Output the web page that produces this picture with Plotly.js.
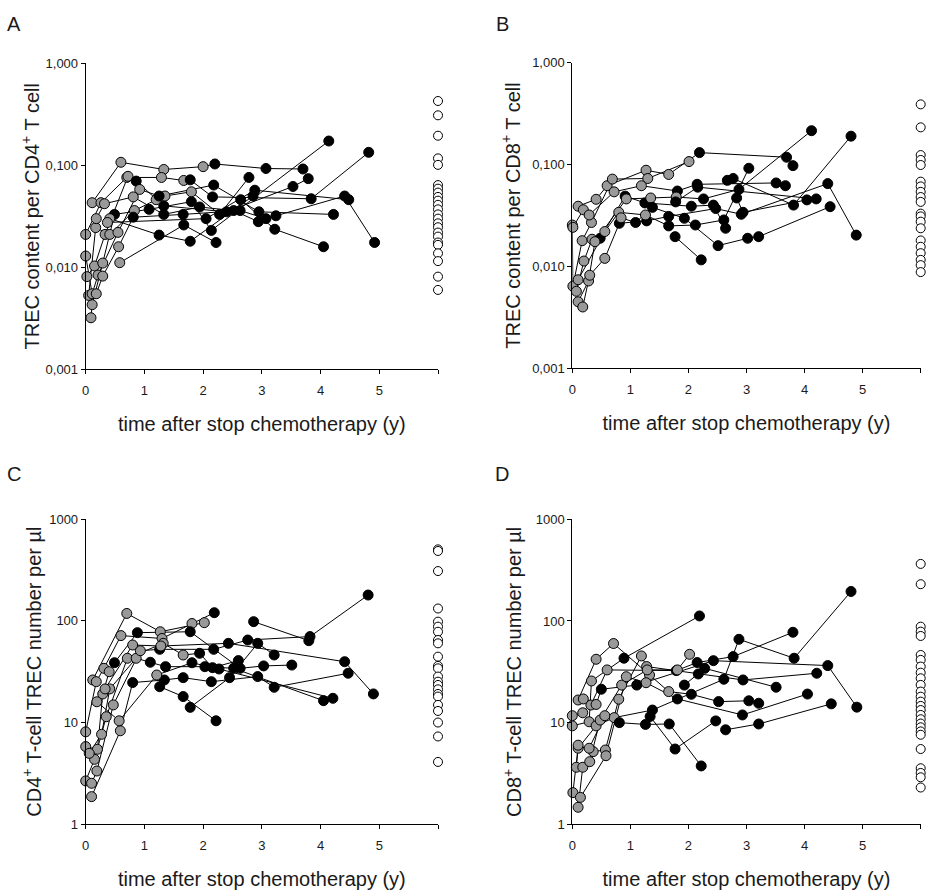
<!DOCTYPE html>
<html>
<head>
<meta charset="utf-8">
<script src="https://cdn.plot.ly/plotly-3.0.1.min.js"></script>
<style>
  html, body { margin: 0; padding: 0; background: #fff; }
  #chart { width: 928px; height: 891px; }
</style>
</head>
<body>
<div id="chart"></div>
<script>
// Follow-up samples per patient: years after stopping chemotherapy, TREC values,
// and sample cohort (0 = early follow-up, 1 = late follow-up).
// Healthy controls are plotted in a separate column on the right.

// A: TREC content per CD4+ T cell
const cd4ShareTimes = [
  [0.11, 0.60, 1.33, 2.00, 2.20, 3.07, 3.70],
  [0.00, 0.26, 0.70, 1.29, 1.67, 1.78, 2.16, 3.84, 4.82],
  [0.02, 0.15, 0.33, 0.72, 0.86, 1.33, 2.40, 3.53, 3.79],
  [0.09, 0.11, 0.29, 0.49, 1.08, 1.80, 2.14, 4.14],
  [0.05, 0.17, 0.41, 0.83, 1.20, 1.35, 1.80, 2.28, 2.78],
  [0.00, 0.11, 0.21, 0.55, 0.92, 1.25, 2.18, 2.95, 4.22],
  [0.18, 0.29, 0.56, 0.81, 1.66, 2.63, 3.07, 4.41, 4.92],
  [0.18, 0.32, 0.81, 1.33, 1.94, 2.52, 2.94, 3.24],
  [0.41, 1.25, 1.78, 2.85],
  [0.58, 1.67, 2.22],
  [0.37, 2.05, 2.88, 4.48],
  [2.64, 3.22, 4.05]
];
const cd4ShareValues = [
  [0.043, 0.107, 0.091, 0.097, 0.103, 0.093, 0.092],
  [0.021, 0.043, 0.076, 0.076, 0.071, 0.072, 0.049, 0.047, 0.134],
  [0.0081, 0.0103, 0.021, 0.078, 0.070, 0.040, 0.035, 0.062, 0.074],
  [0.0032, 0.0043, 0.011, 0.033, 0.037, 0.044, 0.023, 0.173],
  [0.0053, 0.0245, 0.021, 0.036, 0.046, 0.050, 0.055, 0.033, 0.076],
  [0.0129, 0.0055, 0.0084, 0.022, 0.058, 0.050, 0.064, 0.035, 0.033],
  [0.0055, 0.0082, 0.0159, 0.031, 0.033, 0.036, 0.030, 0.050, 0.0175],
  [0.030, 0.042, 0.049, 0.033, 0.039, 0.036, 0.028, 0.032],
  [0.030, 0.0207, 0.018, 0.050],
  [0.0111, 0.026, 0.0175],
  [0.0275, 0.030, 0.057, 0.046],
  [0.046, 0.0236, 0.0159]
];
const cd4ShareCohort = [
  [0, 0, 0, 0, 1, 1, 1],
  [0, 0, 0, 0, 0, 1, 1, 1, 1],
  [0, 0, 0, 0, 1, 1, 1, 1, 1],
  [0, 0, 0, 1, 1, 1, 1, 1],
  [0, 0, 0, 0, 0, 0, 0, 1, 1],
  [0, 0, 0, 0, 0, 1, 1, 1, 1],
  [0, 0, 0, 1, 1, 1, 1, 1, 1],
  [0, 0, 0, 1, 1, 1, 1, 1],
  [0, 1, 1, 1],
  [0, 1, 1],
  [0, 1, 1, 1],
  [1, 1, 1]
];
const cd4ShareHealthy = [0.427, 0.309, 0.195, 0.117, 0.101, 0.064, 0.059, 0.054, 0.049, 0.045,
  0.041, 0.037, 0.033, 0.030, 0.027, 0.0247, 0.0219, 0.020, 0.0175, 0.0166, 0.0137, 0.0115, 0.0081, 0.006];

// B: TREC content per CD8+ T cell
const cd8ShareTimes = [
  [0.10, 0.41, 0.60, 1.27, 1.66, 2.19, 3.69, 3.80],
  [0.00, 0.01, 0.17, 0.33, 0.69, 1.30, 2.01],
  [0.01, 0.19, 0.29, 0.72, 1.19, 1.81, 2.15, 3.51, 3.67],
  [0.07, 0.20, 0.34, 0.48, 0.91, 1.25, 2.05, 2.43, 2.64],
  [0.10, 0.28, 0.39, 0.93, 1.35, 1.79, 2.26, 2.87, 4.12],
  [0.18, 0.30, 0.56, 0.81, 1.28, 1.66, 2.47, 2.91, 4.40, 4.89],
  [0.10, 0.56, 0.80, 1.26, 1.66, 2.12, 2.61, 3.04],
  [0.84, 1.09, 1.38, 1.93, 2.51, 3.02, 3.21, 4.44],
  [1.78, 2.16, 4.20],
  [1.77, 2.22],
  [2.67, 2.77, 3.81, 4.80],
  [2.83, 2.94, 4.04]
];
const cd8ShareValues = [
  [0.039, 0.0456, 0.062, 0.088, 0.080, 0.131, 0.118, 0.0976],
  [0.0255, 0.0064, 0.0179, 0.027, 0.072, 0.073, 0.107],
  [0.0242, 0.036, 0.032, 0.054, 0.062, 0.055, 0.064, 0.066, 0.062],
  [0.0057, 0.0113, 0.0185, 0.0189, 0.049, 0.042, 0.039, 0.040, 0.0237],
  [0.0045, 0.0072, 0.0175, 0.046, 0.047, 0.048, 0.046, 0.057, 0.215],
  [0.0040, 0.0082, 0.012, 0.0265, 0.028, 0.031, 0.037, 0.0325, 0.065, 0.0203],
  [0.0074, 0.022, 0.034, 0.032, 0.025, 0.0255, 0.0286, 0.092],
  [0.030, 0.027, 0.038, 0.0297, 0.016, 0.0189, 0.0196, 0.0386],
  [0.043, 0.060, 0.046],
  [0.0196, 0.0116],
  [0.070, 0.073, 0.040, 0.19],
  [0.047, 0.034, 0.045]
];
const cd8ShareCohort = [
  [0, 0, 0, 0, 0, 1, 1, 1],
  [0, 0, 0, 0, 0, 0, 0],
  [0, 0, 0, 0, 0, 1, 1, 1, 1],
  [0, 0, 0, 1, 1, 1, 1, 1, 1],
  [0, 0, 0, 0, 0, 0, 1, 1, 1],
  [0, 0, 0, 1, 1, 1, 1, 1, 1, 1],
  [0, 0, 0, 0, 1, 1, 1, 1],
  [0, 1, 1, 1, 1, 1, 1, 1],
  [1, 1, 1],
  [1, 1],
  [1, 1, 1, 1],
  [1, 1, 1]
];
const cd8ShareHealthy = [0.39, 0.232, 0.124, 0.111, 0.099, 0.068, 0.061, 0.054, 0.048, 0.043,
  0.033, 0.031, 0.0275, 0.0237, 0.018, 0.0156, 0.0135, 0.0116, 0.0103, 0.0088];

// C: CD4+ T-cell TREC number per µl
const cd4CountTimes = [
  [0.12, 0.70, 1.27, 2.02],
  [0.00, 0.18, 0.31, 0.60, 1.30, 1.81, 2.19],
  [0.00, 0.20, 0.29, 0.40, 0.49, 0.88, 1.78, 2.63, 3.03, 3.51],
  [0.00, 0.15, 0.35, 0.71, 1.32, 1.66, 1.94, 2.16, 2.60],
  [0.06, 0.27, 0.41, 0.86, 1.10, 1.36, 2.03, 2.52, 4.05],
  [0.10, 0.19, 0.47, 0.93, 1.26, 2.18, 2.76, 3.82, 4.81],
  [0.10, 0.59, 0.80, 1.34, 1.66, 2.14, 2.93, 3.21, 4.47],
  [0.19, 0.57, 1.21, 1.81, 2.27, 4.21],
  [0.33, 0.80, 1.28, 2.43, 4.41, 4.90],
  [1.26, 1.66, 2.22],
  [2.86, 3.80],
  [1.78, 2.45, 2.93, 3.21]
];
const cd4CountValues = [
  [26.2, 118, 78, 95.8],
  [8.1, 25.2, 34.1, 71.5, 67, 94, 120],
  [5.8, 5.46, 19.1, 31.6, 38.7, 76.4, 78, 34.1, 36, 36.7],
  [2.67, 4.35, 11.4, 42.8, 60, 46.1, 47.9, 34.6, 40.6],
  [4.98, 7.66, 21.4, 42.8, 39.1, 35.4, 35.4, 34.1, 16.4],
  [2.53, 3.34, 14.9, 50.8, 52.4, 52.4, 64.7, 69.9, 179],
  [1.87, 8.3, 24.7, 26.2, 27.6, 25.2, 28.3, 22.2, 30.5],
  [16.0, 10.4, 29.3, 38.7, 33.6, 17.3],
  [21.4, 57.8, 56.5, 60, 39.6, 19.1],
  [22.5, 18, 10.4],
  [98, 63.7],
  [14.1, 27.6, 60, 46.1]
];
const cd4CountCohort = [
  [0, 0, 0, 0],
  [0, 0, 0, 0, 0, 0, 1],
  [0, 0, 0, 0, 1, 1, 1, 1, 1, 1],
  [0, 0, 0, 0, 0, 0, 1, 1, 1],
  [0, 0, 0, 0, 1, 1, 1, 1, 1],
  [0, 0, 0, 0, 1, 1, 1, 1, 1],
  [0, 0, 1, 1, 1, 1, 1, 1, 1],
  [0, 0, 0, 1, 1, 1],
  [0, 0, 0, 1, 1, 1],
  [1, 1, 1],
  [1, 1],
  [1, 1, 1, 1]
];
const cd4CountHealthy = [503, 485, 308, 132, 98, 87.5, 78, 64.7, 60, 44.4, 36, 34.1,
  28.3, 25.2, 23.4, 21.2, 19.1, 18, 14.9, 13, 10, 7.3, 4.1];

// D: CD8+ T-cell TREC number per µl
const cd8CountTimes = [
  [0.10, 0.41, 0.71, 1.33, 1.66, 2.05, 2.52, 3.04, 3.21],
  [0.00, 0.18, 0.32, 0.60, 1.79, 2.15, 2.77, 3.80],
  [0.00, 0.29, 0.33, 0.89, 2.19],
  [0.01, 0.10, 0.41, 0.72, 1.38, 2.61, 2.87, 3.82, 4.80],
  [0.07, 0.10, 0.36, 0.57, 0.80, 1.19, 1.28, 2.17, 2.94, 4.21],
  [0.10, 0.18, 0.30, 0.48, 0.85, 1.29, 1.81, 2.02],
  [0.14, 0.58, 0.93, 1.27, 1.81, 2.93, 4.05],
  [0.19, 0.41, 0.50, 1.11, 2.43, 4.40, 4.90],
  [0.29, 0.56, 0.81, 1.26, 1.67, 2.22],
  [1.34, 1.77, 2.47],
  [1.93, 2.28, 3.51],
  [2.64, 3.21, 4.46]
];
const cd8CountValues = [
  [16.7, 42, 60, 29.4, 20.2, 19, 16.1, 16.4, 15.5],
  [11.7, 12.5, 14.9, 33, 32.5, 39, 44.6, 77.4],
  [9.3, 10.2, 25.7, 43, 112],
  [2.05, 5.6, 9.3, 11.2, 13.3, 26.7, 66, 43, 195],
  [3.64, 6.0, 5.19, 5.38, 17, 45.3, 35.6, 30.1, 26.3, 30.6],
  [1.47, 3.64, 4.13, 10.6, 23.4, 33, 33, 47],
  [1.84, 4.73, 28.3, 24.7, 17.1, 11.9, 19.1],
  [17.1, 15.1, 21.3, 23.4, 40.7, 36.4, 14.2],
  [5.6, 11.7, 10, 9.6, 9.7, 3.75],
  [11.5, 5.5, 10.4],
  [23.4, 34.2, 22.3],
  [8.5, 9.7, 15.3]
];
const cd8CountCohort = [
  [0, 0, 0, 0, 0, 1, 1, 1, 1],
  [0, 0, 0, 0, 1, 1, 1, 1],
  [0, 0, 0, 1, 1],
  [0, 0, 0, 0, 1, 1, 1, 1, 1],
  [0, 0, 0, 0, 0, 0, 0, 1, 1, 1],
  [0, 0, 0, 0, 0, 0, 0, 0],
  [0, 0, 0, 0, 1, 1, 1],
  [0, 0, 1, 1, 1, 1, 1],
  [0, 0, 1, 1, 1, 1],
  [1, 1, 1],
  [1, 1, 1],
  [1, 1, 1]
];
const cd8CountHealthy = [364, 230, 87.9, 78.5, 71.2, 46.3, 41.4, 35.6, 31, 27.3, 23.5, 20.2,
  18, 16.1, 14.6, 13.3, 11.9, 10.8, 9.8, 9.0, 8.2, 7.6, 5.5, 3.56, 3.2, 2.9, 2.3];

// x-axis ticks (years); an unlabelled tick at 6 marks the healthy-control column
const yearTicks = [0, 1, 2, 3, 4, 5];
const yearLabels = ['0', '1', '2', '3', '4', '5'];
const controlSlot = 6;

// y-axis ticks
const shareTicks = [0.001, 0.01, 0.1, 1];
const shareLabels = ['0,001', '0,010', '0,100', '1,000'];
const countTicks = [1, 10, 100, 1000];
const countLabels = ['1', '10', '100', '1000'];

const W = 928, H = 891;
const FONT = 'Liberation Sans, Arial, Helvetica, sans-serif';
const INK = '#1a1a1a';
const GREY_FILL = '#999999';

const lineTraces = [];
const markerTraces = [];

function addPanel(times, values, cohort, healthy, xa, ya) {
  times.forEach((t, i) => {
    lineTraces.push({
      x: t, y: values[i], xaxis: xa, yaxis: ya,
      mode: 'lines', line: { color: '#000', width: 1 },
      cliponaxis: false, hoverinfo: 'skip', showlegend: false
    });
    markerTraces.push({
      x: t, y: values[i], xaxis: xa, yaxis: ya,
      mode: 'markers',
      marker: {
        size: 10,
        color: cohort[i].map(c => (c ? '#000000' : GREY_FILL)),
        line: { color: '#000', width: 1 }
      },
      cliponaxis: false, showlegend: false
    });
  });
  markerTraces.push({
    x: healthy.map(() => controlSlot), y: healthy, xaxis: xa, yaxis: ya,
    mode: 'markers',
    marker: { size: 9, color: '#ffffff', line: { color: '#000', width: 1 } },
    cliponaxis: false, showlegend: false
  });
}

addPanel(cd4ShareTimes, cd4ShareValues, cd4ShareCohort, cd4ShareHealthy, 'x', 'y');
addPanel(cd8ShareTimes, cd8ShareValues, cd8ShareCohort, cd8ShareHealthy, 'x2', 'y2');
addPanel(cd4CountTimes, cd4CountValues, cd4CountCohort, cd4CountHealthy, 'x3', 'y3');
addPanel(cd8CountTimes, cd8CountValues, cd8CountCohort, cd8CountHealthy, 'x4', 'y4');

const px = v => v / W;
const py = v => 1 - v / H;

const tickFont = { family: FONT, size: 13, color: INK };
const titleFont = { family: FONT, size: 20, color: INK };
const xTitle = 'time after stop chemotherapy (y)';

function xAxis(left, right, anchor) {
  return {
    domain: [px(left), px(right)], range: [0, 6], anchor: anchor,
    tickmode: 'array', tickvals: yearTicks, ticktext: yearLabels,
    ticks: 'outside', ticklen: 4, tickcolor: '#000', tickwidth: 1,
    minor: { tickmode: 'array', tickvals: [controlSlot], ticks: 'outside', ticklen: 4, tickcolor: '#000', tickwidth: 1, showgrid: false },
    ticklabelstandoff: 5,
    showline: true, linecolor: '#000', linewidth: 1,
    showgrid: false, zeroline: false, automargin: false,
    tickfont: tickFont,
    title: { text: xTitle, font: titleFont, standoff: 20 }
  };
}
function yAxis(top, bottom, anchor, range, vals, labels, title, standoff) {
  return {
    domain: [py(bottom), py(top)], type: 'log', range: range, anchor: anchor,
    tickmode: 'array', tickvals: vals, ticktext: labels,
    ticks: 'outside', ticklen: 4, tickcolor: '#000', tickwidth: 1,
    showline: true, linecolor: '#000', linewidth: 1,
    showgrid: false, zeroline: false, automargin: false,
    tickfont: tickFont,
    title: { text: title, font: titleFont, standoff: standoff }
  };
}

function letter(text, x, y) {
  return {
    text: text, xref: 'paper', yref: 'paper', x: px(x), y: py(y),
    xanchor: 'center', yanchor: 'middle', showarrow: false, font: titleFont
  };
}

const layout = {
  width: W, height: H,
  margin: { l: 0, r: 0, t: 0, b: 0 },
  paper_bgcolor: '#fff', plot_bgcolor: 'rgba(0,0,0,0)',
  showlegend: false,
  font: { family: FONT, color: INK },
  xaxis: xAxis(85.7, 438, 'y'),
  yaxis: yAxis(63.3, 369.3, 'x', [-3, 0], shareTicks, shareLabels,
    'TREC content per CD4<sup>+</sup> T cell', 0),
  xaxis2: xAxis(572.3, 920.7, 'y2'),
  yaxis2: yAxis(62.7, 368.3, 'x2', [-3, 0], shareTicks, shareLabels,
    'TREC content per CD8<sup>+</sup> T cell', 6),
  xaxis3: xAxis(85.7, 438, 'y3'),
  yaxis3: yAxis(519, 824.3, 'x3', [0, 3], countTicks, countLabels,
    'CD4<sup>+</sup> T-cell TREC number per µl', 2),
  xaxis4: xAxis(572.3, 920.7, 'y4'),
  yaxis4: yAxis(519.3, 824.3, 'x4', [0, 3], countTicks, countLabels,
    'CD8<sup>+</sup> T-cell TREC number per µl', 8),
  annotations: [
    letter('A', 14, 24), letter('B', 502, 24), letter('C', 14, 474), letter('D', 502, 474)
  ]
};

Plotly.newPlot('chart', lineTraces.concat(markerTraces), layout, { staticPlot: true, displayModeBar: false });
</script>
</body>
</html>
